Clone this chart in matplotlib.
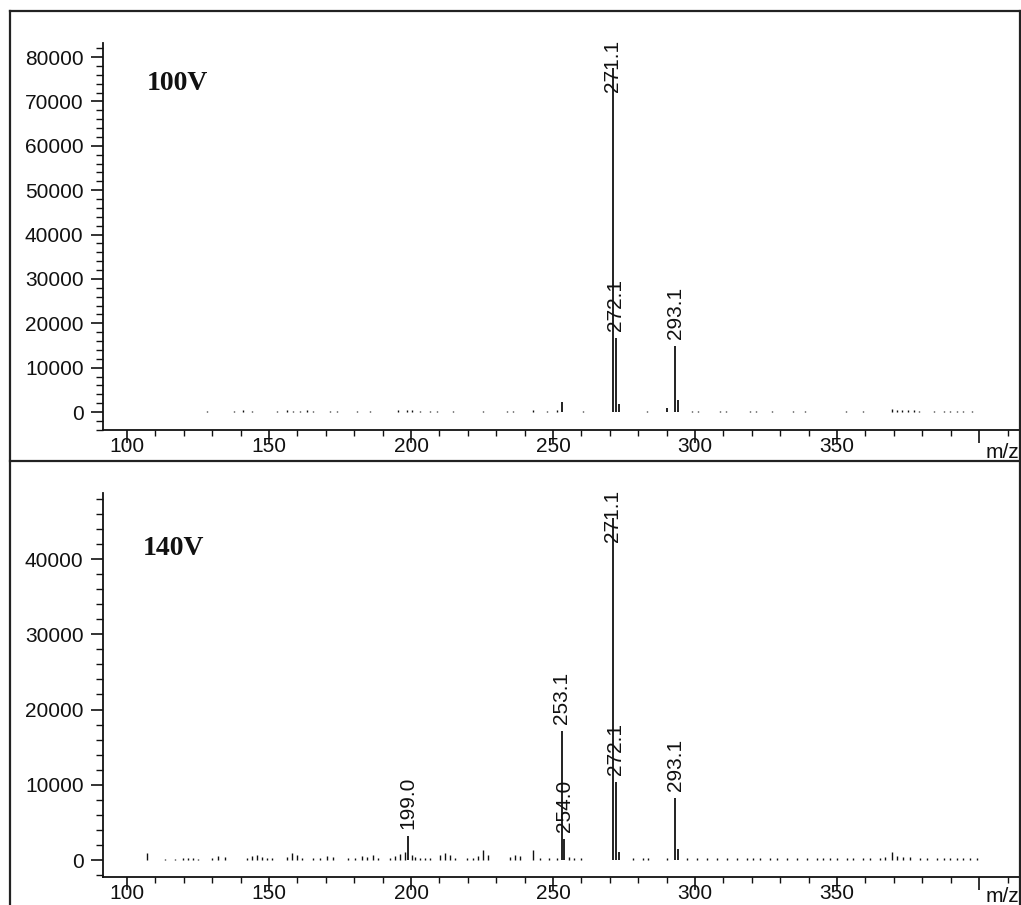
import matplotlib
matplotlib.use("Agg")
import matplotlib.pyplot as plt
from matplotlib.lines import Line2D
from matplotlib.ticker import MultipleLocator, FixedLocator

# ---------------- data ----------------
# 100 V spectrum: labelled peaks
top_peak_mz = [253.0, 271.1, 272.1, 273.1, 290.0, 293.1, 294.1]
top_peak_int = [2200, 77500, 16700, 1800, 800, 14900, 2700]
top_labels = {271.1: "271.1", 272.1: "272.1", 293.1: "293.1"}
# 100 V spectrum: baseline noise
top_noise_mz = [128.0, 137.5, 141.0, 144.0, 152.7, 156.2, 158.6, 160.9, 163.3, 165.6,
                171.5, 173.8, 180.9, 185.6, 195.5, 198.5, 200.2, 203.2, 206.7, 209.0,
                214.9, 225.5, 233.7, 236.0, 243.1, 247.8, 251.3, 260.6, 283.0, 298.8,
                301.0, 308.8, 311.0, 319.4, 321.5, 327.0, 334.5, 338.6, 353.3, 359.2,
                369.2, 371.0, 373.0, 375.0, 377.0, 379.0, 384.0, 387.5, 389.8, 392.2,
                394.5, 397.4]
top_noise_int = [300, 300, 350, 300, 300, 350, 300, 300, 350, 300,
                 300, 300, 300, 300, 350, 400, 350, 300, 300, 300,
                 300, 300, 300, 300, 350, 300, 400, 300, 300, 300,
                 300, 300, 300, 300, 300, 300, 300, 300, 300, 300,
                 700, 400, 350, 350, 350, 300, 300, 300, 300, 300,
                 300, 300]

# 140 V spectrum: labelled peaks
bot_peak_mz = [199.0, 253.1, 254.0, 271.1, 272.1, 273.1, 293.1, 294.1]
bot_peak_int = [3200, 17100, 2800, 45500, 10400, 1000, 8200, 1500]
bot_labels = {199.0: "199.0", 253.1: "253.1", 254.0: "254.0", 271.1: "271.1",
              272.1: "272.1", 293.1: "293.1"}
# 140 V spectrum: baseline noise
bot_noise_mz = [106.9, 113.4, 116.9, 119.8, 121.6, 123.4, 125.1, 129.8, 132.2, 134.5,
                142.1, 143.9, 145.7, 147.4, 149.2, 151.0, 156.2, 158.0, 159.8, 161.5,
                165.6, 168.0, 170.3, 172.6, 177.9, 180.3, 182.6, 184.4, 186.7, 188.5,
                192.6, 194.4, 196.1, 197.9, 200.4, 201.4, 203.2, 204.9, 206.7, 210.2,
                212.0, 213.7, 215.5, 219.6, 221.9, 223.7, 225.5, 227.2, 234.9, 236.6,
                238.4, 243.1, 245.4, 248.4, 251.3, 255.5, 257.2, 260.0, 278.3, 281.8,
                283.6, 290.0, 297.1, 300.6, 304.1, 307.6, 311.2, 314.7, 318.2, 320.5,
                322.9, 326.4, 328.8, 332.3, 335.8, 339.3, 342.9, 345.2, 347.5, 349.9,
                353.4, 355.7, 359.2, 361.6, 365.1, 366.9, 369.3, 371.0, 373.3, 375.7,
                379.2, 381.6, 385.1, 387.5, 389.8, 392.1, 394.5, 396.8, 399.2]
bot_noise_int = [900, 150, 150, 200, 200, 200, 150, 250, 500, 400,
                 300, 500, 700, 400, 300, 200, 400, 900, 600, 200,
                 300, 250, 500, 400, 200, 300, 500, 400, 700, 300,
                 300, 500, 800, 1000, 600, 400, 250, 200, 200, 700,
                 900, 700, 300, 200, 300, 500, 1300, 600, 400, 700,
                 500, 1300, 300, 200, 250, 400, 300, 200, 200, 250,
                 200, 250, 200, 200, 250, 200, 250, 200, 250, 200,
                 250, 200, 250, 200, 200, 250, 200, 250, 250, 300,
                 200, 250, 300, 250, 300, 400, 1100, 500, 450, 400,
                 300, 250, 250, 250, 250, 200, 250, 200, 200]

top_yticks = [0, 10000, 20000, 30000, 40000, 50000, 60000, 70000, 80000]
bot_yticks = [0, 10000, 20000, 30000, 40000]
x_ticks = [100, 150, 200, 250, 300, 350, 400]
x_ticklabels = ["100", "150", "200", "250", "300", "350", ""]
panel_titles = ["100V", "140V"]

# ---------------- layout ----------------
W, H = 1021, 905
DPI = 100
fig = plt.figure(figsize=(W / DPI, H / DPI), dpi=DPI)
fig.patch.set_facecolor("white")
SANS = "Liberation Sans"
INK = "#111111"


def fx(px):
    return px / W


def fy(py):
    return 1 - py / H


ax1 = fig.add_axes([fx(103), fy(430), (1020 - 103) / W, (430 - 43) / H])
ax2 = fig.add_axes([fx(103), fy(877), (1020 - 103) / W, (877 - 493) / H])

XLIM = (91.55, 414.4)


def style(ax, yticks, ylim):
    ax.set_xlim(*XLIM)
    ax.set_ylim(*ylim)
    for s in ("top", "right"):
        ax.spines[s].set_visible(False)
    for s in ("left", "bottom"):
        ax.spines[s].set_linewidth(1.3)
        ax.spines[s].set_color(INK)
    ax.xaxis.set_major_locator(FixedLocator(x_ticks))
    ax.set_xticklabels(x_ticklabels, fontfamily=SANS, fontsize=15)
    ax.xaxis.set_minor_locator(MultipleLocator(10))
    ax.yaxis.set_major_locator(FixedLocator(yticks))
    ax.set_yticklabels([str(v) for v in yticks], fontfamily=SANS, fontsize=15)
    ax.yaxis.set_minor_locator(MultipleLocator(2000))
    ax.tick_params(axis="x", which="major", direction="out", length=9, width=1.2,
                   pad=-4, colors=INK)
    ax.tick_params(axis="x", which="minor", direction="out", length=4, width=1.0,
                   colors=INK)
    ax.tick_params(axis="y", which="major", direction="out", length=9, width=1.2,
                   pad=5, colors=INK)
    ax.tick_params(axis="y", which="minor", direction="out", length=5, width=1.0,
                   colors=INK)


style(ax1, top_yticks, (-4056, 83155))
style(ax2, bot_yticks, (-2259, 48771))

anns = []


def draw_spectrum(ax, pk_mz, pk_int, nz_mz, nz_int, labels):
    ax.vlines(nz_mz, 0, nz_int, colors=INK, linewidth=1.0)
    ax.vlines(pk_mz, 0, pk_int, colors=INK, linewidth=1.3)
    for mz, it in zip(pk_mz, pk_int):
        if mz in labels:
            a = ax.annotate(labels[mz], xy=(mz, it), xytext=(0, 5),
                            textcoords="offset points", rotation=90,
                            ha="center", va="bottom", fontfamily=SANS,
                            fontsize=15, color=INK)
            anns.append((ax, a))


draw_spectrum(ax1, top_peak_mz, top_peak_int, top_noise_mz, top_noise_int, top_labels)
draw_spectrum(ax2, bot_peak_mz, bot_peak_int, bot_noise_mz, bot_noise_int, bot_labels)

ax1.text(0.048, 0.879, panel_titles[0], transform=ax1.transAxes, ha="left",
         va="baseline", fontfamily="Liberation Serif", fontweight="bold",
         fontsize=20, color=INK)
ax2.text(0.0436, 0.8385, panel_titles[1], transform=ax2.transAxes, ha="left",
         va="baseline", fontfamily="Liberation Serif", fontweight="bold",
         fontsize=20, color=INK)

# m/z axis captions
fig.text(fx(1019), fy(458), "m/z", ha="right", va="baseline", fontfamily=SANS,
         fontsize=15, color=INK)
fig.text(fx(1019), fy(902), "m/z", ha="right", va="baseline", fontfamily=SANS,
         fontsize=15, color=INK)

# frame lines around the two panels
for (x0, y0, x1, y1) in [(10, 11, 1020, 11), (10, 11, 10, 905), (1020, 11, 1020, 905),
                         (10, 461, 1020, 461)]:
    fig.add_artist(Line2D([fx(x0), fx(x1)], [fy(y0), fy(y1)], color="#222222",
                          linewidth=1.6, transform=fig.transFigure))

# keep peak labels inside the plot area (shift down when too tall)
fig.canvas.draw()
renderer = fig.canvas.get_renderer()
for ax, a in anns:
    bb = a.get_window_extent(renderer)
    top = ax.get_window_extent(renderer).y1 + 3
    if bb.y1 > top:
        excess = (bb.y1 - top) * 72.0 / DPI
        a.xyann = (0, 5 - excess)

fig.savefig("out.png", dpi=DPI, facecolor="white")
